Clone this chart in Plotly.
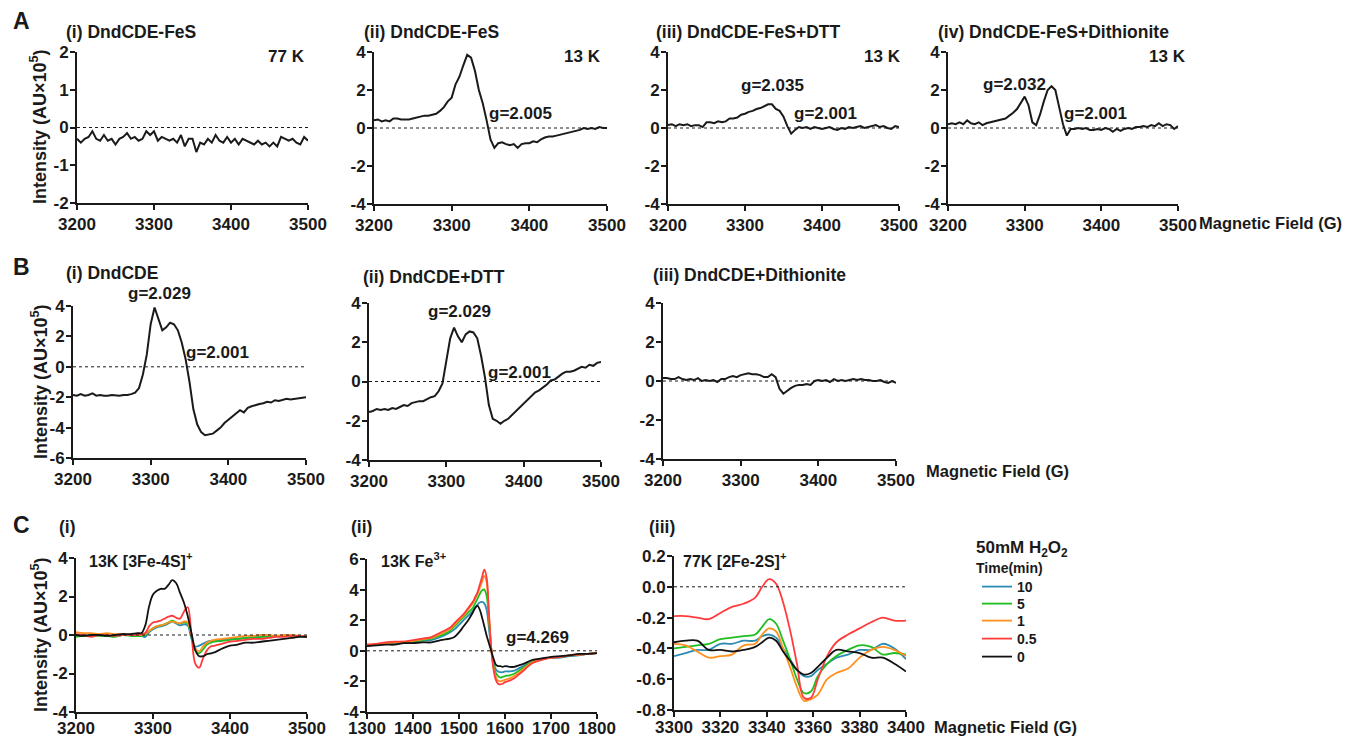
import plotly.graph_objects as go

# reference canvas is 1351x737; the page body adds an 8px margin, so the
# figure is drawn 8px smaller and all positions are given in window pixels
W, H = 1351, 737
OX, OY = 8, 8
FW, FH = W - OX, H - OY
FONT = "Arial"
INK = "#1a1a1a"

# ---------------- data ----------------
field_AB = list(range(3200, 3505, 5))

A_i = [-0.30, -0.40, -0.30, -0.25, -0.10, -0.30, -0.35, -0.20, -0.35, -0.30,
       -0.45, -0.30, -0.25, -0.15, -0.30, -0.25, -0.35, -0.30, -0.10, -0.20,
       -0.10, -0.35, -0.25, -0.30, -0.35, -0.30, -0.40, -0.20, -0.50, -0.30,
       -0.30, -0.65, -0.40, -0.45, -0.30, -0.40, -0.20, -0.35, -0.40, -0.25,
       -0.40, -0.30, -0.45, -0.30, -0.35, -0.40, -0.45, -0.35, -0.45, -0.40,
       -0.50, -0.40, -0.50, -0.25, -0.30, -0.35, -0.30, -0.40, -0.45, -0.25,
       -0.35]
A_ii = [0.40, 0.45, 0.35, 0.40, 0.35, 0.50, 0.50, 0.45, 0.45, 0.45,
        0.50, 0.55, 0.60, 0.65, 0.65, 0.70, 0.75, 0.90, 1.10, 1.40,
        1.60, 2.30, 2.70, 3.30, 3.85, 3.70, 3.00, 2.00, 1.30, 0.40,
        -0.60, -1.05, -0.80, -0.75, -0.85, -0.90, -0.85, -1.05, -0.85, -0.80,
        -0.80, -0.70, -0.75, -0.60, -0.50, -0.45, -0.45, -0.40, -0.35, -0.30,
        -0.25, -0.20, -0.15, -0.10, 0.00, -0.05, 0.00, -0.05, 0.05, 0.00,
        0.00]
A_iii = [0.15, 0.20, 0.10, 0.20, 0.15, 0.20, 0.10, 0.15, 0.15, 0.05,
         0.30, 0.30, 0.25, 0.35, 0.30, 0.35, 0.50, 0.50, 0.55, 0.70,
         0.75, 0.85, 0.90, 1.00, 1.05, 1.15, 1.25, 1.25, 1.00, 0.90,
         0.60, 0.10, -0.30, -0.10, 0.05, 0.00, 0.05, -0.05, 0.05, 0.00,
         -0.05, 0.00, 0.05, -0.05, -0.10, 0.00, -0.05, 0.05, 0.00, 0.05,
         0.10, 0.00, 0.05, 0.10, 0.15, 0.05, 0.10, 0.00, -0.05, 0.10,
         0.05]
A_iv = [0.20, 0.25, 0.20, 0.30, 0.20, 0.40, 0.25, 0.20, 0.30, 0.15,
        0.25, 0.30, 0.35, 0.40, 0.45, 0.50, 0.65, 0.80, 1.00, 1.35,
        1.65, 1.20, 0.30, 0.15, 0.70, 1.40, 2.00, 2.20, 2.00, 1.10,
        0.20, -0.40, -0.05, -0.05, 0.00, -0.05, 0.00, -0.10, -0.10, -0.05,
        -0.10, 0.00, -0.05, -0.20, -0.05, -0.15, -0.05, 0.00, -0.05, 0.05,
        0.05, 0.10, 0.05, 0.15, 0.10, 0.25, 0.10, 0.20, 0.15, -0.05,
        0.10]
B_i = [-1.85, -1.90, -1.80, -1.90, -1.85, -1.75, -1.90, -1.85, -1.90, -1.90,
       -1.85, -1.90, -1.90, -1.85, -1.85, -1.80, -1.70, -1.40, -0.50, 0.80,
       2.80, 3.90, 3.20, 2.40, 2.60, 2.90, 2.80, 2.40, 1.60, 0.50,
       -1.00, -2.80, -3.80, -4.30, -4.50, -4.45, -4.40, -4.20, -4.00, -3.70,
       -3.50, -3.30, -3.10, -2.85, -3.00, -2.70, -2.60, -2.50, -2.45, -2.40,
       -2.30, -2.35, -2.20, -2.25, -2.20, -2.10, -2.15, -2.10, -2.05, -2.05,
       -2.00]
B_ii = [-1.55, -1.50, -1.40, -1.45, -1.40, -1.45, -1.35, -1.40, -1.30, -1.20,
        -1.25, -1.10, -1.05, -1.00, -1.00, -0.90, -0.80, -0.75, -0.50, -0.10,
        1.00, 2.20, 2.75, 2.30, 2.00, 2.40, 2.55, 2.50, 2.20, 1.30,
        0.20, -1.20, -1.90, -2.00, -2.15, -2.00, -1.90, -1.70, -1.50, -1.30,
        -1.10, -0.95, -0.75, -0.55, -0.45, -0.30, -0.15, 0.05, 0.10, 0.25,
        0.40, 0.50, 0.50, 0.55, 0.65, 0.75, 0.70, 0.85, 0.80, 0.95,
        1.00]
B_iii = [0.15, 0.15, 0.10, 0.10, 0.20, 0.10, 0.05, 0.10, 0.05, 0.15,
         0.00, 0.05, 0.00, 0.05, -0.05, 0.10, 0.10, 0.20, 0.25, 0.20,
         0.30, 0.35, 0.40, 0.35, 0.35, 0.30, 0.20, 0.20, 0.35, 0.20,
         -0.40, -0.65, -0.50, -0.35, -0.25, -0.20, -0.20, -0.15, -0.20, 0.00,
         0.05, 0.00, 0.05, -0.05, 0.10, 0.00, 0.05, 0.00, 0.05, 0.10,
         0.05, 0.10, 0.05, 0.05, 0.00, 0.00, 0.05, -0.05, -0.10, 0.00,
         -0.10]

# Panel C: H2O2 time series (min)
times = ["10", "5", "1", "0.5", "0"]
time_colors = ["#2b8cb3", "#1fbd1f", "#ff8f1f", "#ff3b3b", "#111111"]

field_C1 = [3200, 3210, 3220, 3230, 3240, 3250, 3260, 3270, 3280,
            3285, 3290, 3295, 3300, 3305, 3310, 3315, 3320, 3325, 3330,
            3335, 3340, 3345, 3350, 3355, 3360, 3365, 3370, 3375, 3380,
            3390, 3400, 3410, 3420, 3430, 3440, 3450, 3460, 3470, 3480, 3490, 3500]
C1_t10 = [0.0, 0.0, -0.05, 0.0, -0.05, -0.05, 0.0, 0.0, 0.0,
          -0.05, -0.1, 0.15, 0.3, 0.4, 0.45, 0.5, 0.6, 0.7, 0.6,
          0.5, 0.55, 0.5, -0.2, -0.6, -0.55, -0.45, -0.35, -0.3, -0.3,
          -0.25, -0.2, -0.2, -0.15, -0.1, -0.1, -0.05, -0.05, -0.05, -0.05, -0.05, -0.05]
C1_t5 = [-0.1, -0.05, -0.05, -0.05, -0.05, -0.1, 0.0, -0.05, -0.05,
         -0.05, 0.0, 0.2, 0.35, 0.45, 0.5, 0.55, 0.65, 0.75, 0.65,
         0.6, 0.65, 0.6, -0.1, -0.8, -0.95, -0.75, -0.5, -0.4, -0.35,
         -0.3, -0.25, -0.2, -0.15, -0.15, -0.1, -0.1, -0.05, -0.05, -0.05, -0.05, -0.1]
C1_t1 = [0.15, 0.1, 0.1, 0.05, 0.1, 0.05, 0.05, 0.0, 0.0,
         0.0, 0.05, 0.2, 0.35, 0.45, 0.5, 0.55, 0.65, 0.7, 0.65,
         0.6, 0.7, 0.65, 0.0, -0.7, -0.85, -0.6, -0.4, -0.3, -0.25,
         -0.2, -0.15, -0.1, -0.05, -0.05, 0.0, 0.0, -0.05, 0.0, 0.0, -0.05, -0.05]
C1_t05 = [0.05, 0.0, -0.1, 0.0, 0.0, -0.05, 0.0, 0.0, 0.0,
          0.05, 0.1, 0.45, 0.65, 0.7, 0.75, 0.85, 0.95, 1.0, 0.9,
          0.85, 1.2, 1.45, 0.0, -1.5, -1.7, -1.2, -0.8, -0.6, -0.55,
          -0.45, -0.35, -0.3, -0.25, -0.2, -0.2, -0.15, -0.1, -0.1, -0.05, -0.05, -0.1]
C1_t0 = [0.0, -0.05, 0.0, 0.0, -0.05, 0.0, 0.05, 0.05, 0.1,
         0.1, 0.5, 1.5, 2.1, 2.3, 2.4, 2.4, 2.6, 2.85, 2.7,
         2.2, 1.7, 1.0, 0.1, -0.8, -1.1, -1.1, -1.0, -0.95, -0.9,
         -0.7, -0.55, -0.5, -0.4, -0.4, -0.35, -0.3, -0.25, -0.2, -0.15, -0.1, -0.1]

field_C2 = [1300, 1320, 1340, 1360, 1380, 1400, 1420, 1440, 1460, 1480,
            1490, 1500, 1510, 1520, 1530, 1535, 1540, 1545, 1550, 1555,
            1560, 1565, 1570, 1575, 1580, 1585, 1590, 1595, 1600, 1610,
            1620, 1630, 1640, 1660, 1680, 1700, 1720, 1740, 1760, 1780, 1800]
C2_t10 = [0.35, 0.40, 0.45, 0.50, 0.50, 0.55, 0.65, 0.70, 0.90, 1.20,
          1.40, 1.70, 2.00, 2.30, 2.60, 2.80, 3.00, 3.15, 3.20, 3.10,
          2.70, 1.50, 0.10, -0.80, -1.20, -1.35, -1.40, -1.40, -1.35, -1.35,
          -1.30, -1.15, -1.00, -0.70, -0.55, -0.45, -0.45, -0.35, -0.30, -0.20, -0.15]
C2_t5 = [0.35, 0.40, 0.50, 0.55, 0.55, 0.60, 0.70, 0.80, 1.00, 1.30,
         1.60, 1.90, 2.20, 2.50, 2.80, 3.10, 3.40, 3.70, 3.95, 4.00,
         3.60, 2.00, 0.20, -0.90, -1.45, -1.65, -1.75, -1.70, -1.65, -1.60,
         -1.50, -1.30, -1.10, -0.70, -0.55, -0.45, -0.40, -0.30, -0.25, -0.20, -0.15]
C2_t1 = [0.40, 0.45, 0.50, 0.55, 0.60, 0.65, 0.75, 0.85, 1.10, 1.40,
         1.70, 2.00, 2.30, 2.70, 3.10, 3.40, 3.70, 4.10, 4.50, 4.90,
         4.50, 2.40, 0.20, -1.10, -1.70, -1.95, -2.00, -1.95, -1.90, -1.80,
         -1.65, -1.45, -1.20, -0.75, -0.55, -0.45, -0.40, -0.30, -0.25, -0.20, -0.15]
C2_t05 = [0.40, 0.45, 0.55, 0.60, 0.60, 0.70, 0.80, 0.90, 1.20, 1.50,
          1.80, 2.10, 2.40, 2.80, 3.20, 3.50, 3.80, 4.30, 4.80, 5.30,
          4.80, 2.50, 0.20, -1.20, -1.90, -2.15, -2.20, -2.15, -2.05, -1.95,
          -1.80, -1.55, -1.30, -0.80, -0.60, -0.45, -0.40, -0.30, -0.25, -0.20, -0.15]
C2_t0 = [0.30, 0.35, 0.40, 0.40, 0.50, 0.50, 0.55, 0.55, 0.70, 0.80,
         0.90, 1.20, 1.60, 2.00, 2.50, 2.80, 2.95, 2.70, 2.20, 1.60,
         1.00, 0.50, 0.00, -0.50, -0.90, -1.00, -1.00, -1.05, -1.00, -1.05,
         -1.05, -0.95, -0.85, -0.60, -0.50, -0.40, -0.35, -0.30, -0.20, -0.20, -0.15]

field_C3 = [3300, 3305, 3310, 3315, 3320, 3325, 3330, 3335, 3338, 3341,
            3344, 3347, 3350, 3353, 3356, 3359, 3362, 3366, 3370, 3375,
            3380, 3385, 3390, 3395, 3400]
C3_t10 = [-0.45, -0.43, -0.41, -0.41, -0.37, -0.37, -0.35, -0.35, -0.32, -0.31,
          -0.33, -0.40, -0.47, -0.54, -0.58, -0.58, -0.54, -0.50, -0.46, -0.44,
          -0.41, -0.41, -0.37, -0.40, -0.47]
C3_t5 = [-0.40, -0.39, -0.38, -0.37, -0.34, -0.33, -0.32, -0.31, -0.26, -0.21,
         -0.24, -0.35, -0.47, -0.60, -0.69, -0.68, -0.58, -0.50, -0.45, -0.41,
         -0.38, -0.39, -0.44, -0.43, -0.44]
C3_t1 = [-0.37, -0.38, -0.42, -0.46, -0.45, -0.44, -0.38, -0.37, -0.31, -0.27,
         -0.29, -0.40, -0.52, -0.65, -0.74, -0.73, -0.70, -0.60, -0.56, -0.53,
         -0.46, -0.41, -0.39, -0.41, -0.45]
C3_t05 = [-0.19, -0.19, -0.20, -0.21, -0.17, -0.13, -0.11, -0.07, 0.00, 0.05,
          0.02, -0.10, -0.28, -0.50, -0.72, -0.72, -0.60, -0.45, -0.36, -0.31,
          -0.27, -0.23, -0.20, -0.22, -0.22]
C3_t0 = [-0.36, -0.35, -0.35, -0.41, -0.41, -0.42, -0.41, -0.39, -0.36, -0.33,
         -0.35, -0.42, -0.48, -0.54, -0.57, -0.56, -0.52, -0.46, -0.41, -0.42,
         -0.43, -0.46, -0.46, -0.50, -0.55]

ticks_AB = [3200, 3300, 3400, 3500]
ticks_C2 = [1300, 1400, 1500, 1600, 1700, 1800]
ticks_C3 = [3300, 3320, 3340, 3360, 3380, 3400]


def PX(p):
    return (p - OX) / FW


def PY(p):
    return 1 - (p - OY) / FH


# ---------------- figure ----------------
fig = go.Figure()
layout_axes = {}
shapes = []


def labels(vals, fmt="{:g}"):
    return ["<b>" + fmt.format(v) + "</b>" for v in vals]


def add_axes(i, xpx, ypx, xr, xt, yr, yt, yfmt="{:g}", xstandoff=0):
    common = dict(showline=True, linecolor=INK, linewidth=2, ticks="outside",
                  ticklen=5, tickwidth=2, tickcolor=INK, showgrid=False,
                  zeroline=False, fixedrange=True, automargin=False,
                  tickfont=dict(family=FONT, size=17, color=INK))
    sx = "" if i == 1 else str(i)
    layout_axes["xaxis" + sx] = dict(common, domain=[PX(xpx[0]), PX(xpx[1])],
                                     range=xr, tickvals=xt, ticktext=labels(xt),
                                     ticklabelstandoff=xstandoff,
                                     anchor="y" + sx)
    layout_axes["yaxis" + sx] = dict(common, domain=[PY(ypx[1]), PY(ypx[0])],
                                     range=yr, tickvals=yt, ticktext=labels(yt, yfmt),
                                     ticklabelstandoff=-2,
                                     anchor="x" + sx)
    shapes.append(dict(type="line", xref="x" + sx, yref="y" + sx,
                       x0=xr[0], x1=xr[1], y0=0, y1=0,
                       line=dict(color=INK, width=1, dash="dot")))
    return "x" + sx, "y" + sx


def add_line(xa, ya, x, y, color=INK, width=2, name=None, legend=None, spline=False):
    fig.add_trace(go.Scatter(x=x, y=y, mode="lines", xaxis=xa, yaxis=ya,
                             line=dict(color=color, width=width,
                                       shape="spline" if spline else "linear"),
                             name=name, showlegend=legend is not None,
                             legend=legend or "legend", hoverinfo="skip"))


yt4 = [-4, -2, 0, 2, 4]
# Row A
xa, ya = add_axes(1, (77, 308), (52, 203), [3200, 3500], ticks_AB, [-2, 2], [-2, -1, 0, 1, 2])
add_line(xa, ya, field_AB, A_i)
xa, ya = add_axes(2, (374, 607), (52, 204), [3200, 3500], ticks_AB, [-4, 4], yt4)
add_line(xa, ya, field_AB, A_ii)
xa, ya = add_axes(3, (668, 899), (52, 204), [3200, 3500], ticks_AB, [-4, 4], yt4)
add_line(xa, ya, field_AB, A_iii)
xa, ya = add_axes(4, (948, 1178), (52, 204), [3200, 3500], ticks_AB, [-4, 4], yt4)
add_line(xa, ya, field_AB, A_iv)
# Row B
xa, ya = add_axes(5, (73, 306), (306, 458), [3200, 3500], ticks_AB, [-6, 4], [-6, -4, -2, 0, 2, 4])
add_line(xa, ya, field_AB, B_i)
xa, ya = add_axes(6, (369, 601), (303, 460), [3200, 3500], ticks_AB, [-4, 4], yt4)
add_line(xa, ya, field_AB, B_ii)
xa, ya = add_axes(7, (663, 896), (303, 459), [3200, 3500], ticks_AB, [-4, 4], yt4)
add_line(xa, ya, field_AB, B_iii)
# Row C
C1 = [C1_t10, C1_t5, C1_t1, C1_t05, C1_t0]
C2 = [C2_t10, C2_t5, C2_t1, C2_t05, C2_t0]
C3 = [C3_t10, C3_t5, C3_t1, C3_t05, C3_t0]
xa, ya = add_axes(8, (76, 307), (558, 712), [3200, 3500], ticks_AB, [-4, 4], yt4, xstandoff=-5)
for s, c in zip(C1, time_colors):
    add_line(xa, ya, field_C1, s, color=c, width=1.8, spline=True)
xa, ya = add_axes(9, (367, 597), (559, 712), [1300, 1800], ticks_C2, [-4, 6],
                  [-4, -2, 0, 2, 4, 6], xstandoff=-5)
for s, c in zip(C2, time_colors):
    add_line(xa, ya, field_C2, s, color=c, width=1.8, spline=True)
xa, ya = add_axes(10, (674, 906), (556, 710), [3300, 3400], ticks_C3, [-0.8, 0.2],
                  [-0.8, -0.6, -0.4, -0.2, 0.0, 0.2], yfmt="{:.1f}", xstandoff=-4)
legend_ids = ["legend", "legend2", "legend3", "legend4", "legend5"]
for s, c, n, lg in zip(C3, time_colors, times, legend_ids):
    add_line(xa, ya, field_C3, s, color=c, width=1.8, name=n, legend=lg, spline=True)

# ---------------- text ----------------
annotations = []


def txt(text, x, y, size=16, xanchor="left", yanchor="middle", angle=0):
    annotations.append(dict(text="<b>" + text + "</b>", x=PX(x), y=PY(y),
                            xref="paper", yref="paper",
                            xanchor=xanchor, yanchor=yanchor, showarrow=False,
                            textangle=angle,
                            font=dict(family=FONT, size=size, color=INK)))


# panel letters
txt("A", 11, 21, size=23)
txt("B", 11, 267, size=23)
txt("C", 11, 525, size=23)
# panel titles
txt("(i) DndCDE-FeS", 64, 32, size=17.5)
txt("(ii) DndCDE-FeS", 362, 32, size=17.5)
txt("(iii) DndCDE-FeS+DTT", 654, 32, size=17.5)
txt("(iv) DndCDE-FeS+Dithionite", 936, 32, size=17.5)
txt("(i) DndCDE", 64, 273, size=17.5)
txt("(ii) DndCDE+DTT", 361, 277, size=17.5)
txt("(iii) DndCDE+Dithionite", 651, 275, size=17.5)
txt("(i)", 57, 527, size=17.5)
txt("(ii)", 349, 527, size=17.5)
txt("(iii)", 647, 527, size=17.5)
# temperatures
txt("77 K", 266, 57, size=17)
txt("13 K", 562, 57, size=17)
txt("13 K", 862, 57, size=17)
txt("13 K", 1147, 57, size=17)
# g-values
txt("g=2.005", 487, 113, size=17)
txt("g=2.035", 739, 85, size=17)
txt("g=2.001", 792, 114, size=17)
txt("g=2.032", 981, 84, size=17)
txt("g=2.001", 1062, 113, size=17)
txt("g=2.029", 126, 293, size=17)
txt("g=2.001", 184, 352, size=17)
txt("g=2.029", 426, 312, size=17)
txt("g=2.001", 486, 372, size=17)
txt("g=4.269", 504, 637, size=17)
txt("13K [3Fe-4S]<sup>+</sup>", 87, 560, size=16)
txt("13K Fe<sup>3+</sup>", 379, 560, size=16)
txt("77K [2Fe-2S]<sup>+</sup>", 681, 560, size=16)
# axis titles
txt("Magnetic Field (G)", 1197, 223, size=16.5)
txt("Magnetic Field (G)", 924, 471, size=16.5)
txt("Magnetic Field (G)", 932, 727, size=16.5)
for yc in (127, 382, 635):
    txt("Intensity (AU×10<sup>5</sup>)", 39, yc, size=18, xanchor="center", angle=-90)
# legend heading
txt("50mM H<sub>2</sub>O<sub>2</sub>", 974, 549, size=17)
txt("Time(min)", 974, 568, size=14)

legend_rows = [587, 604, 621, 639, 657]
legend_layout = {}
for lg, yrow in zip(legend_ids, legend_rows):
    legend_layout[lg] = dict(x=PX(977), y=PY(yrow), xanchor="left", yanchor="middle",
                             font=dict(family=FONT, size=14, color=INK, weight="bold"),
                             bgcolor="rgba(0,0,0,0)", itemwidth=30)

fig.update_layout(
    template="none",
    width=FW, height=FH,
    margin=dict(l=0, r=0, t=0, b=0, autoexpand=False),
    paper_bgcolor="white", plot_bgcolor="white",
    font=dict(family=FONT, color=INK),
    shapes=shapes, annotations=annotations,
    showlegend=True,
    **legend_layout,
    **layout_axes,
)

fig.write_html("out.html")
